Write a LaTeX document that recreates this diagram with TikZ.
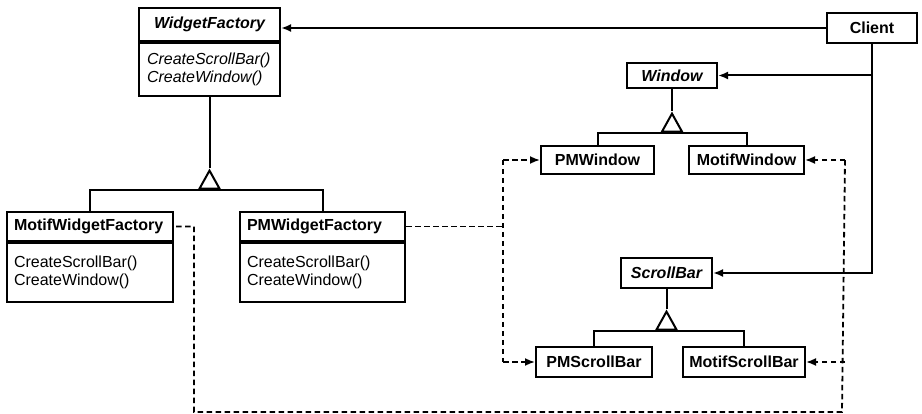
\documentclass[tikz,border=0pt]{standalone}
\usepackage{fontspec}
\setmainfont{Liberation Sans}
\usetikzlibrary{positioning, arrows.meta, shapes.geometric}
\tikzset{
    klasse/.style   = {draw, line width=2pt, inner sep=0pt, align=center,
                       font=\fontsize{16}{18}\selectfont\bfseries},
    abstrakt/.style = {klasse, font=\fontsize{16}{18}\selectfont\bfseries\itshape},
    fabrik/.style   = {klasse, inner xsep=7pt, text width=152pt, align=left,
                       minimum height=29pt},
    fach/.style     = {draw, line width=2pt, inner xsep=8pt, inner ysep=0pt,
                       align=left, font=\fontsize{16}{18}\selectfont},
    erbt/.style     = {draw, line width=2pt, fill=white, isosceles triangle,
                       shape border rotate=90, isosceles triangle stretches,
                       minimum width=20pt, minimum height=18pt, inner sep=0pt},
    verb/.style     = {line width=2pt},
    assoz/.style    = {verb, -{Latex[length=10pt, width=8pt]}},
    strich/.style   = {line width=1.8pt, dash pattern=on 5.5pt off 3.5pt},
    instanz/.style  = {strich, -{Latex[length=10pt, width=8pt]}}
}
\begin{document}
\begin{tikzpicture}[x=1pt, y=-1pt]
    \useasboundingbox (0,0) rectangle (922,414);

    % Fabriken
    \node[abstrakt, minimum width=141pt, minimum height=33pt] (wfname) at (209.5,24.5) {WidgetFactory};
    \node[fach, font=\fontsize{16}{18}\selectfont\itshape, text width=125pt,
          minimum height=53pt, below=0pt of wfname] (wfops) {CreateScrollBar()\\CreateWindow()};
    \node[fabrik] (motifname) at (90,226.5) {MotifWidgetFactory};
    \node[fach, text width=152pt, inner xsep=7pt, minimum height=59pt,
          below=0pt of motifname] (motifops) {CreateScrollBar()\\CreateWindow()};
    \node[fabrik, text width=151pt, right=65pt of motifname] (pmname) {PMWidgetFactory};
    \node[fach, text width=151pt, inner xsep=7pt, minimum height=59pt,
          below=0pt of pmname] (pmops) {CreateScrollBar()\\CreateWindow()};

    % Produkte
    \node[klasse, minimum width=90pt, minimum height=30pt] (client) at (872,28) {Client};
    \node[abstrakt, minimum width=90pt, minimum height=25pt] (window) at (672,75.5) {Window};
    \node[klasse, minimum width=113pt, minimum height=28pt] (pmwindow) at (597.5,160) {PMWindow};
    \node[klasse, minimum width=115pt, minimum height=28pt, right=33pt of pmwindow] (motifwindow) {MotifWindow};
    \node[abstrakt, minimum width=91pt, minimum height=30pt] (scrollbar) at (666.5,273) {ScrollBar};
    \node[klasse, minimum width=116pt, minimum height=30pt] (pmscrollbar) at (594,362) {PMScrollBar};
    \node[klasse, minimum width=122pt, minimum height=30pt, right=29pt of pmscrollbar] (motifscrollbar) {MotifScrollBar};

    % Vererbung
    \node[erbt, anchor=apex] (wfdreieck) at ([yshift=-71pt]wfops.south) {};
    \node[erbt, anchor=apex] (windreieck) at ([yshift=-22pt]window.south) {};
    \node[erbt, anchor=apex] (sbdreieck) at ([yshift=-20pt]scrollbar.south) {};
    \draw[verb] (wfops.south) -- (wfdreieck.apex);
    \draw[verb] (motifname.north) |- (wfdreieck.lower side) -| (pmname.north);
    \draw[verb] (window.south) -- (windreieck.apex);
    \draw[verb] (pmwindow.north) |- (windreieck.lower side) -| (motifwindow.north);
    \draw[verb] (scrollbar.south) -- (sbdreieck.apex);
    \draw[verb] (pmscrollbar.north) |- (sbdreieck.lower side) -| (motifscrollbar.north);

    % Client
    \draw[assoz] (client.west) -- (client.west -| wfname.east);
    \draw[assoz] (client.south) |- (window);
    \draw[assoz] (client.south) |- (scrollbar);

    % Erzeugung
    \coordinate (pmknoten) at ([xshift=97pt]pmname.east);
    \coordinate (pmoben) at (pmknoten |- pmwindow.west);
    \coordinate (pmunten) at (pmknoten |- pmscrollbar.west);
    \draw[strich] (pmname.east) -- (pmknoten);
    \draw[strich] (pmoben) -- (pmunten);
    \draw[instanz] (pmoben) -- (pmwindow);
    \draw[instanz] (pmunten) -- (pmscrollbar);

    \coordinate (motifoben) at ([xshift=40pt]motifwindow.east);
    \coordinate (motifunten) at (motifoben |- motifscrollbar.east);
    \coordinate (motifecke) at (842,412);
    \coordinate (motifwf) at ([xshift=20pt]motifname.east);
    \draw[strich] (motifoben) -- (motifecke) -| (motifwf) -- (motifname.east);
    \draw[instanz] (motifoben) -- (motifwindow);
    \draw[instanz] (motifunten) -- (motifscrollbar);
\end{tikzpicture}
\end{document}
